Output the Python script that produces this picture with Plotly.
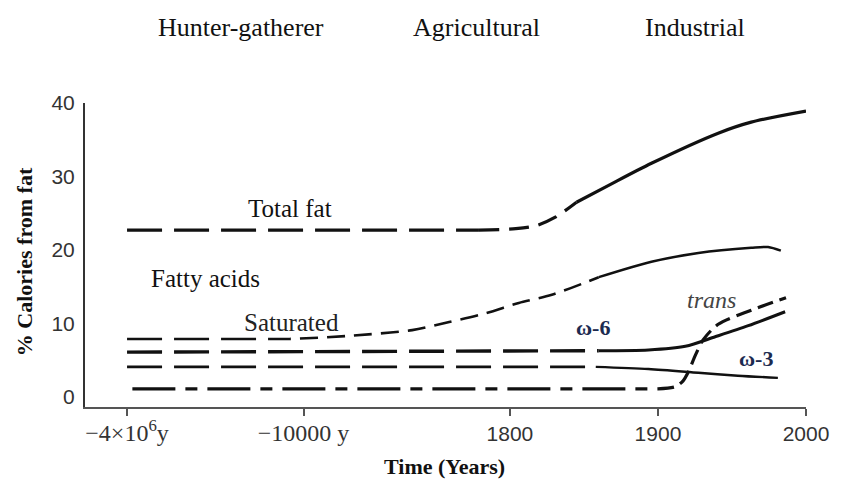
"""Dietary fat through human history: % calories from fat, on a broken time axis."""
import plotly.graph_objects as go

# x is measured in centuries after 1800 (the axis is only linear from 1800 on)
TICK_POS = [-2.586, -1.394, 0.0, 1.0, 2.0]
TICK_TEXT = ["−4×10<sup>6</sup>y", "−10000 y", "1800", "1900", "2000"]
SERIF_TICKS = 2  # the first two tick labels are set in a serif face

TOTAL_X = [-2.586, -0.209, 0.04, 0.175, 0.31, 0.45, 0.667, 0.956, 1.407, 1.63, 2.0]
TOTAL_Y = [22.7, 22.7, 22.9, 23.3, 24.5, 26.5, 28.8, 31.8, 35.9, 37.4, 38.9]

SAT_X = [-2.586, -1.6, -1.488, -1.104, -0.66, -0.41, -0.162, 0.06, 0.283, 0.6, 0.956, 1.273, 1.63, 1.744, 1.83]
SAT_Y = [7.9, 7.9, 7.9, 8.3, 9.1, 10.2, 11.4, 12.8, 13.9, 16.3, 18.4, 19.6, 20.3, 20.4, 19.9]

W6_X = [-2.586, 0.6, 0.936, 1.185, 1.387, 1.61, 1.859]
W6_Y = [6.1, 6.3, 6.4, 6.9, 8.2, 9.7, 11.6]

W3_X = [-2.586, 0.58, 0.936, 1.273, 1.54, 1.81]
W3_Y = [4.1, 4.1, 3.8, 3.3, 2.9, 2.6]

TRANS_X = [-2.55, 1.0, 1.118, 1.17, 1.205, 1.253, 1.306, 1.407, 1.63, 1.865]
TRANS_Y = [1.1, 1.1, 1.4, 2.2, 3.4, 5.7, 7.8, 9.9, 11.8, 13.5]

ERAS = ["Hunter-gatherer", "Agricultural", "Industrial"]
ERA_X = [-1.818, -0.229, 1.253]

# (series, x-from, x-to, dash, width)
SEGMENTS = [
    ((TOTAL_X, TOTAL_Y), -3, -0.209, "35px,12px", 3.2),
    ((TOTAL_X, TOTAL_Y), -0.209, 0.45, "20px,10px", 3.2),
    ((TOTAL_X, TOTAL_Y), 0.45, 3, "solid", 3.2),
    ((SAT_X, SAT_Y), -3, -1.6, "35px,12px", 2.6),
    ((SAT_X, SAT_Y), -1.6, 0.6, "18px,9px", 2.6),
    ((SAT_X, SAT_Y), 0.6, 3, "solid", 2.4),
    ((W6_X, W6_Y), -3, 0.6, "35px,12px", 3.4),
    ((W6_X, W6_Y), 0.6, 3, "solid", 3.0),
    ((W3_X, W3_Y), -3, 0.58, "35px,12px", 2.6),
    ((W3_X, W3_Y), 0.58, 3, "solid", 2.4),
    ((TRANS_X, TRANS_Y), -3, 1.0, "43px,10px,12px,10px", 3.2),
    ((TRANS_X, TRANS_Y), 1.0, 3, "16px,7px", 3.2),
]

SERIF = "Liberation Serif, Times New Roman, serif"
SANS = "Liberation Sans, Arial, sans-serif"
INK = "#111111"

fig = go.Figure()
for (xs, ys), x0, x1, dash, width in SEGMENTS:
    pts = [(x, y) for x, y in zip(xs, ys) if x0 <= x <= x1]
    fig.add_scatter(x=[p[0] for p in pts], y=[p[1] for p in pts], mode="lines",
                    line=dict(color=INK, width=width, dash=dash, shape="spline", smoothing=0.8),
                    showlegend=False, hoverinfo="skip")

labels = [
    ("Total fat", -1.488, 25.7, dict(family=SERIF, size=25, color="#111")),
    ("Fatty acids", -2.054, 16.1, dict(family=SERIF, size=25, color="#111")),
    ("Saturated", -1.475, 10.2, dict(family=SERIF, size=25, color="#222")),
    ("<b>ω-6</b>", 0.559, 9.4, dict(family=SERIF, size=22, color="#1c2b50")),
    ("<i>trans</i>", 1.36, 13.2, dict(family=SERIF, size=24, color="#444")),
    ("<b>ω-3</b>", 1.663, 5.3, dict(family=SERIF, size=22, color="#1c2b50")),
]
for text, x, y, font in labels:
    fig.add_annotation(x=x, y=y, text=text, showarrow=False, font=font)

centred = dict(showarrow=False, xanchor="center", yanchor="middle")
for era, x in zip(ERAS, ERA_X):
    fig.add_annotation(x=x, y=1.25, yref="paper", text=era, **centred,
                       font=dict(family=SERIF, size=26, color="#111"))

fig.add_annotation(x=-0.083, y=0.477, xref="paper", yref="paper", textangle=-90,
                   text="<b>% Calories from fat</b>", **centred,
                   font=dict(family=SERIF, size=22, color="#111"))
fig.add_annotation(x=0.499, y=-0.197, xref="paper", yref="paper",
                   text="<b>Time (Years)</b>", **centred,
                   font=dict(family=SERIF, size=22, color="#111"))

ticktext = [f"<span style='font-family:{SERIF};font-size:24px'>{t}</span>"
            if i < SERIF_TICKS else t for i, t in enumerate(TICK_TEXT)]
fig.update_layout(
    width=841, height=482, margin=dict(l=85, r=33, t=103, b=75),
    plot_bgcolor="white", paper_bgcolor="white",
    xaxis=dict(range=[-2.87, 2.0], tickvals=TICK_POS, ticktext=ticktext,
               showgrid=False, zeroline=False, showline=True, linecolor="#555", linewidth=2,
               ticks="outside", ticklen=7, tickwidth=1.5, tickcolor="#555",
               tickfont=dict(family=SANS, size=21, color="#333")),
    xaxis2=dict(range=[-2.87, 2.0], overlaying="x", anchor="y", tickvals=TICK_POS,
                showticklabels=False, showgrid=False, zeroline=False, showline=False,
                ticks="inside", ticklen=7, tickwidth=1.5, tickcolor="#555", side="bottom"),
    yaxis=dict(range=[-1.36, 40], tickvals=[0, 10, 20, 30, 40], showgrid=False, zeroline=False,
               showline=True, linecolor="#333", linewidth=2, ticks="", ticklabelstandoff=4,
               tickfont=dict(family=SANS, size=21, color="#333")),
)
# drop the page's default body margin so the figure sits flush in the window
fig.write_html("out.html", config={"displayModeBar": False},
               post_script="document.body.style.margin='0';document.body.style.overflow='hidden';")
